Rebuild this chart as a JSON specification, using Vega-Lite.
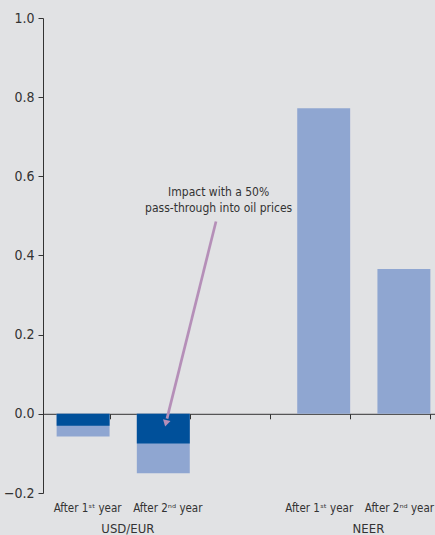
{
  "$schema": "https://vega.github.io/schema/vega-lite/v6.json",
  "width": 392,
  "height": 475,
  "autosize": {"type": "none"},
  "padding": {"left": 43, "top": 18, "right": 0, "bottom": 42},
  "background": "#e1e2e4",
  "config": {
    "view": {"stroke": null},
    "font": "Liberation Sans Narrow, DejaVu Sans Condensed, Liberation Sans, sans-serif"
  },
  "datasets": {
    "bars": [
      {"cat": "u1", "full": -0.057, "half": -0.03},
      {"cat": "u2", "full": -0.15, "half": -0.075},
      {"cat": "n1", "full": 0.772, "half": null},
      {"cat": "n2", "full": 0.366, "half": null}
    ],
    "groups": [
      {"cat": "u2", "group": "USD/EUR"},
      {"cat": "n2", "group": "NEER"}
    ],
    "arrow": [
      {"x": 2.157, "y": 0.486, "x2": 1.546, "y2": -0.012}
    ],
    "arrowHead": [
      {"x": 1.533, "y": -0.024}
    ],
    "note": [
      {"x": 2.19, "y": 0.551, "text": "Impact with a 50%\npass-through into oil prices"}
    ]
  },
  "layer": [
    {
      "layer": [
        {
          "data": {"name": "bars"},
          "mark": {"type": "bar", "color": "#8fa6d1"},
          "encoding": {
            "x": {
              "field": "cat",
              "type": "nominal",
              "title": null,
              "scale": {
                "domain": ["u1", "u2", "gap", "n1", "n2"],
                "range": [0, 401],
                "paddingInner": 0.34,
                "paddingOuter": 0.17
              },
              "axis": {
                "offset": -79.2,
                "tickBand": "extent",
                "domainColor": "#333333",
                "tickColor": "#333333",
                "tickSize": 5,
                "labelAngle": 0,
                "labelBaseline": "alphabetic",
                "labelPadding": 93,
                "labelFontSize": 11.5,
                "labelColor": "#333333",
                "labelOverlap": false,
                "labelOffset": {"condition": {"test": "datum.value == 'n1' || datum.value == 'n2'", "value": -5}, "value": 4},
                "labelExpr": "datum.value == 'u1' || datum.value == 'n1' ? 'After 1ˢᵗ year' : (datum.value == 'u2' || datum.value == 'n2' ? 'After 2ⁿᵈ year' : '')"
              }
            },
            "y": {
              "field": "full",
              "type": "quantitative",
              "title": null,
              "scale": {"domain": [-0.2, 1.0], "nice": false, "zero": false},
              "axis": {
                "values": [-0.2, 0, 0.2, 0.4, 0.6, 0.8, 1.0],
                "format": ".1f",
                "grid": false,
                "domainColor": "#333333",
                "tickColor": "#333333",
                "tickSize": 5,
                "labelFontSize": 14,
                "labelColor": "#333333",
                "labelPadding": 4
              }
            }
          }
        },
        {
          "data": {"name": "bars"},
          "transform": [{"filter": "datum.half != null"}],
          "mark": {"type": "bar", "color": "#00509a"},
          "encoding": {
            "x": {"field": "cat", "type": "nominal", "title": null},
            "y": {"field": "half", "type": "quantitative", "title": null}
          }
        },
        {
          "data": {"name": "groups"},
          "mark": {"type": "text", "fontSize": 13, "color": "#333333", "baseline": "alphabetic", "dy": 40, "dx": -9},
          "encoding": {
            "x": {"field": "cat", "type": "nominal", "bandPosition": 0, "title": null},
            "y": {"datum": -0.2, "type": "quantitative"},
            "text": {"field": "group"}
          }
        }
      ]
    },
    {
      "layer": [
        {
          "data": {"name": "arrow"},
          "mark": {"type": "rule", "color": "#b58fb8", "strokeWidth": 2.7},
          "encoding": {
            "x": {"field": "x", "type": "quantitative", "scale": {"domain": [0, 5], "range": [0, 401]}, "axis": null},
            "y": {"field": "y", "type": "quantitative", "title": null},
            "x2": {"field": "x2"},
            "y2": {"field": "y2"}
          }
        },
        {
          "data": {"name": "arrowHead"},
          "mark": {"type": "point", "shape": "triangle-down", "filled": true, "opacity": 1, "color": "#b58fb8", "size": 60, "angle": 14},
          "encoding": {
            "x": {"field": "x", "type": "quantitative"},
            "y": {"field": "y", "type": "quantitative", "title": null}
          }
        },
        {
          "data": {"name": "note"},
          "mark": {"type": "text", "fontSize": 12, "color": "#333333", "align": "center", "baseline": "alphabetic", "lineBreak": "\n", "lineHeight": 16.5},
          "encoding": {
            "x": {"field": "x", "type": "quantitative"},
            "y": {"field": "y", "type": "quantitative", "title": null},
            "text": {"field": "text"}
          }
        }
      ]
    }
  ],
  "resolve": {"scale": {"x": "independent"}, "axis": {"x": "independent"}}
}
